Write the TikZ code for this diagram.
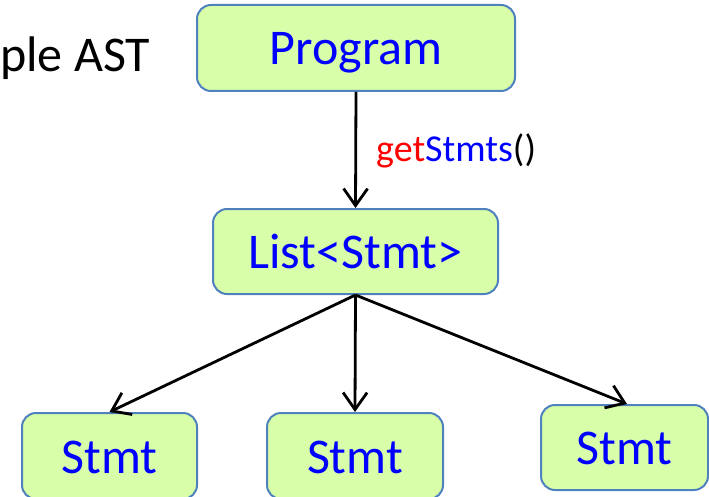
\documentclass[tikz,border=0pt]{standalone}
\usepackage{fontspec}
\setmainfont{Carlito}
\usetikzlibrary{arrows.meta}
\definecolor{boxfill}{HTML}{D9FEA9}
\definecolor{boxline}{HTML}{4F81BD}
\definecolor{txtblue}{RGB}{0,0,255}
\definecolor{txtred}{RGB}{255,0,0}
\tikzset{
  astbox/.style={draw=boxline, line width=2pt, fill=boxfill, rounded corners=14pt,
    inner sep=0pt, text=txtblue, font=\fontsize{50}{60}\selectfont,
    text height=34pt, text depth=0pt},
  arr/.style={line width=2.8pt, -{Straight Barb[length=17pt,width=24pt,line width=2.8pt]}}
}
\begin{document}
\begin{tikzpicture}[x=1pt,y=-1pt]
\useasboundingbox (0,0) rectangle (709,497);
\clip (0,0) rectangle (709,497);
\node[anchor=base west, inner sep=0pt, font=\fontsize{50}{60}\selectfont] (title) at (0,72) {ple AST};
\node[astbox, minimum width=318pt, minimum height=86pt] (prog) at (356,48) {Program};
\node[astbox, minimum width=285pt, minimum height=85pt] (list) at (355.5,251.5) {List<Stmt>};
\node[astbox, minimum width=175pt, minimum height=86pt] (s1) at (109.5,456) {Stmt};
\node[astbox, minimum width=176pt, minimum height=86pt] (s2) at (355,456) {Stmt};
\node[astbox, minimum width=167pt, minimum height=85pt] (s3) at (624.5,447.5) {Stmt};
\node[anchor=base west, inner sep=0pt, font=\fontsize{38}{46}\selectfont] (lbl) at (376,162)
  {\textcolor{txtred}{get}\textcolor{txtblue}{Stmts}()};
\draw[arr] (prog.south) -- (list.north);
\draw[arr] (list.south) -- (s1.north);
\draw[arr] (list.south) -- (s2.north);
\draw[arr] (list.south) -- ([xshift=2.5pt]s3.north);
\end{tikzpicture}
\end{document}
